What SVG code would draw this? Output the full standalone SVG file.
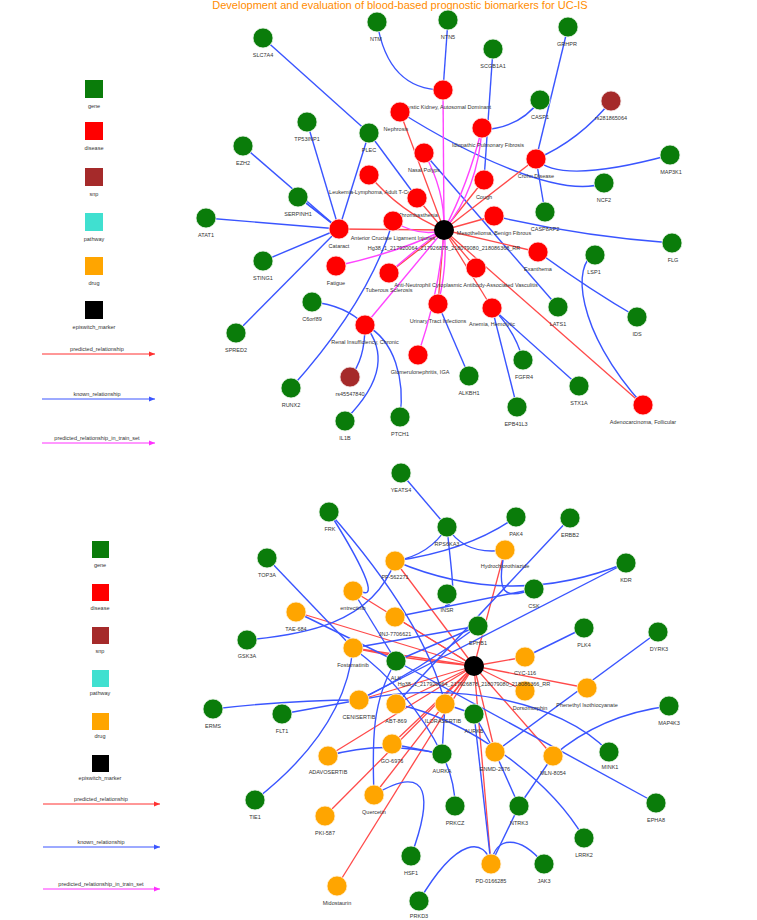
<svg xmlns="http://www.w3.org/2000/svg" width="757" height="920" viewBox="0 0 757 920">
<style>
text{font-family:"Liberation Sans",Arial,sans-serif;font-size:5.5px;fill:#333;text-anchor:middle}
.g{fill:#0a7c0a;stroke:#e8f4e8;stroke-width:0.8}
.d{fill:#ff0000;stroke:#ffe0e0;stroke-width:0.8}
.s{fill:#a52a2a;stroke:#f0e0e0;stroke-width:0.8}
.r{fill:#ffa500;stroke:#fff0d8;stroke-width:0.8}
.m{fill:#000}
.k{stroke:#3a55ff;stroke-width:1.4;fill:none}
.p{stroke:#ff4a4a;stroke-width:1.3;fill:none}
.t{stroke:#ff44ff;stroke-width:1.4;fill:none}
</style>
<defs>
<marker id="ar" viewBox="0 0 6 6" refX="6" refY="3" markerWidth="6" markerHeight="6" orient="auto"><path d="M0,0.5 L6,3 L0,5.5 z" fill="#ff3030"/></marker>
<marker id="ab" viewBox="0 0 6 6" refX="6" refY="3" markerWidth="6" markerHeight="6" orient="auto"><path d="M0,0.5 L6,3 L0,5.5 z" fill="#3a55ff"/></marker>
<marker id="am" viewBox="0 0 6 6" refX="6" refY="3" markerWidth="6" markerHeight="6" orient="auto"><path d="M0,0.5 L6,3 L0,5.5 z" fill="#ff30ff"/></marker>
</defs>
<rect width="757" height="920" fill="#fff"/>
<text x="400" y="9" style="font-size:11px;fill:#ff8c00">Development and evaluation of blood-based prognostic biomarkers for UC-IS</text>

<!-- legends -->
<g id="legend-top">
<rect x="85" y="80" width="18" height="18" fill="#0a7c0a"/><text x="94" y="108">gene</text>
<rect x="85" y="122" width="18" height="18" fill="#ff0000"/><text x="94" y="150">disease</text>
<rect x="85" y="168" width="18" height="18" fill="#a52a2a"/><text x="94" y="196">snp</text>
<rect x="85" y="213" width="18" height="18" fill="#40e0d0"/><text x="94" y="241">pathway</text>
<rect x="85" y="257" width="18" height="18" fill="#ffa500"/><text x="94" y="285">drug</text>
<rect x="85" y="301" width="18" height="18" fill="#000"/><text x="94" y="329">episwitch_marker</text>
<text x="97" y="351">predicted_relationship</text><line x1="42" y1="354" x2="155" y2="354" stroke="#ff3030" stroke-width="1" marker-end="url(#ar)"/>
<text x="97" y="396">known_relationship</text><line x1="42" y1="399" x2="155" y2="399" stroke="#3a55ff" stroke-width="1" marker-end="url(#ab)"/>
<text x="97" y="440">predicted_relationship_in_train_set</text><line x1="42" y1="443" x2="155" y2="443" stroke="#ff30ff" stroke-width="1" marker-end="url(#am)"/>
</g>
<g id="legend-bottom">
<rect x="92" y="541" width="17" height="17" fill="#0a7c0a"/><text x="100" y="567">gene</text>
<rect x="92" y="584" width="17" height="17" fill="#ff0000"/><text x="100" y="610">disease</text>
<rect x="92" y="627" width="17" height="17" fill="#a52a2a"/><text x="100" y="653">snp</text>
<rect x="92" y="670" width="17" height="17" fill="#40e0d0"/><text x="100" y="695">pathway</text>
<rect x="92" y="713" width="17" height="17" fill="#ffa500"/><text x="100" y="738">drug</text>
<rect x="92" y="755" width="17" height="17" fill="#000"/><text x="100" y="780">episwitch_marker</text>
<text x="101" y="801">predicted_relationship</text><line x1="43" y1="804" x2="160" y2="804" stroke="#ff3030" stroke-width="1" marker-end="url(#ar)"/>
<text x="101" y="844">known_relationship</text><line x1="43" y1="847" x2="160" y2="847" stroke="#3a55ff" stroke-width="1" marker-end="url(#ab)"/>
<text x="101" y="886">predicted_relationship_in_train_set</text><line x1="43" y1="889" x2="160" y2="889" stroke="#ff30ff" stroke-width="1" marker-end="url(#am)"/>
</g>

<g id="connectors">
<!-- top: known -->
<path class="k" d="M263,38 L369,133"/>
<path class="k" d="M377,22 Q388,90 443,90"/>
<path class="k" d="M448,20 L443,90"/>
<path class="k" d="M493,49 L484,180"/>
<path class="k" d="M540,100 Q520,128 482,130"/>
<path class="k" d="M568,27 L536,159"/>
<path class="k" d="M611,101 Q580,140 536,159"/>
<path class="k" d="M536,159 Q560,185 670,155"/>
<path class="k" d="M536,159 L545,212"/>
<path class="k" d="M400,112 C460,150 560,200 604,183"/>
<path class="k" d="M494,216 Q580,236 672,243"/>
<path class="k" d="M538,252 Q590,290 637,317"/>
<path class="k" d="M595,255 C572,262 575,330 643,405"/>
<path class="k" d="M424,153 L558,307"/>
<path class="k" d="M492,308 Q515,330 523,360"/>
<path class="k" d="M492,308 L579,386"/>
<path class="k" d="M492,308 L517,407"/>
<path class="k" d="M438,304 L469,376"/>
<path class="k" d="M365,325 Q345,305 312,302"/>
<path class="k" d="M365,325 Q365,360 350,377"/>
<path class="k" d="M365,325 C385,350 385,380 345,420"/>
<path class="k" d="M365,325 C395,340 405,380 400,417"/>
<path class="k" d="M393,221 Q370,300 291,388"/>
<path class="k" d="M339,229 L206,218"/>
<path class="k" d="M339,229 L243,146"/>
<path class="k" d="M339,229 L298,197"/>
<path class="k" d="M339,229 Q310,205 300,199"/>
<path class="k" d="M339,229 L307,122"/>
<path class="k" d="M339,229 L263,261"/>
<path class="k" d="M339,229 L236,333"/>
<path class="k" d="M339,229 L369,133"/>
<path class="k" d="M369,133 L417,198"/>
<!-- top: predicted -->
<path class="p" d="M444,230 L339,229"/>
<path class="p" d="M444,230 Q400,212 369,175"/>
<path class="p" d="M444,230 L417,198"/>
<path class="p" d="M444,230 L400,112"/>
<path class="p" d="M444,230 L536,159"/>
<path class="p" d="M444,230 L484,180"/>
<path class="p" d="M444,230 L494,216"/>
<path class="p" d="M444,230 L538,252"/>
<path class="p" d="M444,230 L492,308"/>
<path class="p" d="M444,230 L476,268"/>
<path class="p" d="M444,230 L438,304"/>
<path class="p" d="M444,230 L643,405"/>
<path class="p" d="M444,230 L389,273"/>
<!-- top: train -->
<path class="t" d="M443,90 L444,230"/>
<path class="t" d="M482,128 Q468,185 444,230"/>
<path class="t" d="M482,128 Q478,190 444,230"/>
<path class="t" d="M424,153 Q445,190 444,230"/>
<path class="t" d="M393,221 Q420,238 444,230"/>
<path class="t" d="M336,266 Q400,252 444,230"/>
<path class="t" d="M389,273 Q420,245 444,230"/>
<path class="t" d="M365,325 L444,230"/>
<path class="t" d="M418,355 Q440,290 444,230"/>
<path class="t" d="M438,304 Q448,265 444,230"/>

<!-- bottom: predicted (marker 474,666) -->
<path class="p" d="M474,666 L395,561"/>
<path class="p" d="M474,666 L505,550"/>
<path class="p" d="M474,666 L353,591"/>
<path class="p" d="M474,666 L296,612"/>
<path class="p" d="M474,666 L395,617"/>
<path class="p" d="M474,666 L353,648"/>
<path class="p" d="M474,666 Q410,660 353,648"/>
<path class="p" d="M474,666 L525,657"/>
<path class="p" d="M474,666 L525,691"/>
<path class="p" d="M474,666 L587,688"/>
<path class="p" d="M474,666 L359,700"/>
<path class="p" d="M474,666 L396,704"/>
<path class="p" d="M474,666 L445,704"/>
<path class="p" d="M474,666 L392,744"/>
<path class="p" d="M474,666 L328,756"/>
<path class="p" d="M474,666 L495,752"/>
<path class="p" d="M474,666 L553,756"/>
<path class="p" d="M474,666 L374,795"/>
<path class="p" d="M474,666 L325,816"/>
<path class="p" d="M474,666 L491,864"/>
<path class="p" d="M474,666 L337,886"/>
<!-- bottom: known -->
<path class="k" d="M401,473 L447,527"/>
<path class="k" d="M329,512 C350,545 382,600 362,592"/>
<path class="k" d="M329,512 C380,570 430,640 445,704"/>
<path class="k" d="M447,527 Q430,555 395,561"/>
<path class="k" d="M447,527 Q465,556 505,550"/>
<path class="k" d="M447,527 C452,580 458,605 445,606"/>
<path class="k" d="M516,517 Q470,550 395,561"/>
<path class="k" d="M505,550 C495,595 505,600 534,589"/>
<path class="k" d="M570,518 L396,704"/>
<path class="k" d="M626,563 Q510,610 395,561"/>
<path class="k" d="M626,563 L359,700"/>
<path class="k" d="M267,558 L353,648"/>
<path class="k" d="M247,640 C300,635 372,625 395,561"/>
<path class="k" d="M213,709 Q290,700 359,700"/>
<path class="k" d="M282,714 L359,700"/>
<path class="k" d="M255,800 Q345,730 353,648"/>
<path class="k" d="M296,612 L396,661"/>
<path class="k" d="M353,591 L396,661"/>
<path class="k" d="M353,648 L478,626"/>
<path class="k" d="M353,648 Q410,690 442,754"/>
<path class="k" d="M396,661 L656,803"/>
<path class="k" d="M359,700 Q420,670 478,626"/>
<path class="k" d="M359,700 C450,680 560,700 609,752"/>
<path class="k" d="M396,704 C470,720 550,780 584,838"/>
<path class="k" d="M442,754 Q455,780 455,806"/>
<path class="k" d="M442,754 L392,744"/>
<path class="k" d="M442,754 Q380,740 328,756"/>
<path class="k" d="M442,754 L445,704"/>
<path class="k" d="M474,714 L445,704"/>
<path class="k" d="M474,714 L495,752"/>
<path class="k" d="M519,806 L491,864"/>
<path class="k" d="M519,806 L553,756"/>
<path class="k" d="M519,806 L495,752"/>
<path class="k" d="M491,864 C495,835 520,835 544,864"/>
<path class="k" d="M491,864 C485,838 458,835 419,901"/>
<path class="k" d="M411,856 C432,800 432,760 374,795"/>
<path class="k" d="M491,864 L474,714"/>
<path class="k" d="M658,632 L495,752"/>
<path class="k" d="M584,628 L525,657"/>
<path class="k" d="M669,706 Q600,715 553,756"/>
<path class="k" d="M374,795 C372,740 372,700 396,661"/>
<path class="k" d="M478,626 L396,661"/>
<path class="k" d="M534,589 Q480,600 395,617"/>
</g>

<!-- top nodes -->
<g id="SLC7A4"><circle class="g" cx="263" cy="38" r="10"/><text x="263" y="57">SLC7A4</text></g>
<g id="NTM"><circle class="g" cx="377" cy="22" r="10"/><text x="376" y="41">NTM</text></g>
<g id="NTN5"><circle class="g" cx="448" cy="20" r="10"/><text x="448" y="39">NTN5</text></g>
<g id="SCGB1A1"><circle class="g" cx="493" cy="49" r="10"/><text x="493" y="68">SCGB1A1</text></g>
<g id="GRHPR"><circle class="g" cx="568" cy="27" r="10"/><text x="567" y="46">GRHPR</text></g>
<g id="CASP1"><circle class="g" cx="540" cy="100" r="10"/><text x="540" y="119">CASP1</text></g>
<g id="rs281865064"><circle class="s" cx="611" cy="101" r="10"/><text x="611" y="120">rs281865064</text></g>
<g id="MAP3K1"><circle class="g" cx="670" cy="155" r="10"/><text x="671" y="174">MAP3K1</text></g>
<g id="NCF2"><circle class="g" cx="604" cy="183" r="10"/><text x="604" y="202">NCF2</text></g>
<g id="CASP8AP2"><circle class="g" cx="545" cy="212" r="10"/><text x="545" y="231">CASP8AP2</text></g>
<g id="FLG"><circle class="g" cx="672" cy="243" r="10"/><text x="673" y="262">FLG</text></g>
<g id="LSP1"><circle class="g" cx="595" cy="255" r="10"/><text x="594" y="274">LSP1</text></g>
<g id="IDS"><circle class="g" cx="637" cy="317" r="10"/><text x="637" y="336">IDS</text></g>
<g id="LATS1"><circle class="g" cx="558" cy="307" r="10"/><text x="558" y="326">LATS1</text></g>
<g id="STX1A"><circle class="g" cx="579" cy="386" r="10"/><text x="579" y="405">STX1A</text></g>
<g id="FGFR4"><circle class="g" cx="523" cy="360" r="10"/><text x="524" y="379">FGFR4</text></g>
<g id="EPB41L3"><circle class="g" cx="517" cy="407" r="10"/><text x="516" y="426">EPB41L3</text></g>
<g id="ALKBH1"><circle class="g" cx="469" cy="376" r="10"/><text x="469" y="395">ALKBH1</text></g>
<g id="PTCH1"><circle class="g" cx="400" cy="417" r="10"/><text x="400" y="436">PTCH1</text></g>
<g id="IL1B"><circle class="g" cx="345" cy="421" r="10"/><text x="345" y="440">IL1B</text></g>
<g id="rs45547840"><circle class="s" cx="350" cy="377" r="10"/><text x="350" y="396">rs45547840</text></g>
<g id="RUNX2"><circle class="g" cx="291" cy="388" r="10"/><text x="291" y="407">RUNX2</text></g>
<g id="C6orf89"><circle class="g" cx="312" cy="302" r="10"/><text x="312" y="321">C6orf89</text></g>
<g id="SPRED2"><circle class="g" cx="236" cy="333" r="10"/><text x="236" y="352">SPRED2</text></g>
<g id="STING1"><circle class="g" cx="263" cy="261" r="10"/><text x="263" y="280">STING1</text></g>
<g id="ATAT1"><circle class="g" cx="206" cy="218" r="10"/><text x="206" y="237">ATAT1</text></g>
<g id="SERPINH1"><circle class="g" cx="298" cy="197" r="10"/><text x="298" y="216">SERPINH1</text></g>
<g id="EZH2"><circle class="g" cx="243" cy="146" r="10"/><text x="243" y="165">EZH2</text></g>
<g id="TP53INP1"><circle class="g" cx="307" cy="122" r="10"/><text x="307" y="141">TP53INP1</text></g>
<g id="PLEC"><circle class="g" cx="369" cy="133" r="10"/><text x="369" y="152">PLEC</text></g>

<g id="Polycystic"><circle class="d" cx="443" cy="90" r="10"/><text x="443" y="109">Polycystic Kidney, Autosomal Dominant</text></g>
<g id="Nephrosis"><circle class="d" cx="400" cy="112" r="10"/><text x="396" y="131">Nephrosis</text></g>
<g id="IPF"><circle class="d" cx="482" cy="128" r="10"/><text x="488" y="147">Idiopathic Pulmonary Fibrosis</text></g>
<g id="NasalPolyps"><circle class="d" cx="424" cy="153" r="10"/><text x="424" y="172">Nasal Polyps</text></g>
<g id="Crohn"><circle class="d" cx="536" cy="159" r="10"/><text x="536" y="178">Crohn Disease</text></g>
<g id="Cough"><circle class="d" cx="484" cy="180" r="10"/><text x="484" y="199">Cough</text></g>
<g id="Leukemia"><circle class="d" cx="369" cy="175" r="10"/><text x="371" y="194">Leukemia-Lymphoma, Adult T-Cell</text></g>
<g id="Thrombasthenia"><circle class="d" cx="417" cy="198" r="10"/><text x="418" y="217">Thrombasthenia</text></g>
<g id="Mesothelioma"><circle class="d" cx="494" cy="216" r="10"/><text x="494" y="235">Mesothelioma, Benign Fibrous</text></g>
<g id="Cataract"><circle class="d" cx="339" cy="229" r="10"/><text x="339" y="248">Cataract</text></g>
<g id="ACL"><circle class="d" cx="393" cy="221" r="10"/><text x="393" y="240">Anterior Cruciate Ligament Injuries</text></g>
<g id="Exanthema"><circle class="d" cx="538" cy="252" r="10"/><text x="538" y="271">Exanthema</text></g>
<g id="Fatigue"><circle class="d" cx="336" cy="266" r="10"/><text x="336" y="285">Fatigue</text></g>
<g id="Tuberous"><circle class="d" cx="389" cy="273" r="10"/><text x="389" y="292">Tuberous Sclerosis</text></g>
<g id="ANCA"><circle class="d" cx="476" cy="268" r="10"/><text x="466" y="287">Anti-Neutrophil Cytoplasmic Antibody-Associated Vasculitis</text></g>
<g id="UTI"><circle class="d" cx="438" cy="304" r="10"/><text x="438" y="323">Urinary Tract Infections</text></g>
<g id="Anemia"><circle class="d" cx="492" cy="308" r="10"/><text x="492" y="326">Anemia, Hemolytic</text></g>
<g id="Renal"><circle class="d" cx="365" cy="325" r="10"/><text x="365" y="344">Renal Insufficiency, Chronic</text></g>
<g id="Glomerulonephritis"><circle class="d" cx="418" cy="355" r="10"/><text x="420" y="374">Glomerulonephritis, IGA</text></g>
<g id="Adenocarcinoma"><circle class="d" cx="643" cy="405" r="10"/><text x="643" y="424">Adenocarcinoma, Follicular</text></g>
<g id="marker-top"><circle class="m" cx="444" cy="230" r="10"/><text x="444" y="250">Hg38_1_217920064_217926878_218079080_218086368_RR</text></g>

<!-- bottom nodes -->
<g id="YEATS4"><circle class="g" cx="401" cy="473" r="10"/><text x="401" y="492">YEATS4</text></g>
<g id="FRK"><circle class="g" cx="329" cy="512" r="10"/><text x="330" y="531">FRK</text></g>
<g id="RPS6KA3"><circle class="g" cx="447" cy="527" r="10"/><text x="447" y="546">RPS6KA3</text></g>
<g id="PAK4"><circle class="g" cx="516" cy="517" r="10"/><text x="516" y="536">PAK4</text></g>
<g id="ERBB2"><circle class="g" cx="570" cy="518" r="10"/><text x="570" y="537">ERBB2</text></g>
<g id="KDR"><circle class="g" cx="626" cy="563" r="10"/><text x="626" y="582">KDR</text></g>
<g id="TOP3A"><circle class="g" cx="267" cy="558" r="10"/><text x="267" y="577">TOP3A</text></g>
<g id="CSK"><circle class="g" cx="534" cy="589" r="10"/><text x="534" y="608">CSK</text></g>
<g id="INSR"><circle class="g" cx="447" cy="594" r="10"/><text x="447" y="612">INSR</text></g>
<g id="EPHB1"><circle class="g" cx="478" cy="626" r="10"/><text x="478" y="645">EPHB1</text></g>
<g id="PLK4"><circle class="g" cx="584" cy="628" r="10"/><text x="584" y="647">PLK4</text></g>
<g id="DYRK3"><circle class="g" cx="658" cy="632" r="10"/><text x="659" y="651">DYRK3</text></g>
<g id="GSK3A"><circle class="g" cx="247" cy="640" r="10"/><text x="247" y="658">GSK3A</text></g>
<g id="ALK"><circle class="g" cx="396" cy="661" r="10"/><text x="396" y="680">ALK</text></g>
<g id="MAP4K3"><circle class="g" cx="669" cy="706" r="10"/><text x="669" y="725">MAP4K3</text></g>
<g id="AURKB"><circle class="g" cx="474" cy="714" r="10"/><text x="474" y="733">AURKB</text></g>
<g id="ERMS"><circle class="g" cx="213" cy="709" r="10"/><text x="213" y="728">ERMS</text></g>
<g id="FLT1"><circle class="g" cx="282" cy="714" r="10"/><text x="282" y="733">FLT1</text></g>
<g id="MINK1"><circle class="g" cx="609" cy="752" r="10"/><text x="610" y="769">MINK1</text></g>
<g id="AURKA"><circle class="g" cx="442" cy="754" r="10"/><text x="442" y="773">AURKA</text></g>
<g id="TIE1"><circle class="g" cx="255" cy="800" r="10"/><text x="255" y="819">TIE1</text></g>
<g id="EPHA8"><circle class="g" cx="656" cy="803" r="10"/><text x="656" y="822">EPHA8</text></g>
<g id="PRKCZ"><circle class="g" cx="455" cy="806" r="10"/><text x="455" y="825">PRKCZ</text></g>
<g id="NTRK3"><circle class="g" cx="519" cy="806" r="10"/><text x="519" y="825">NTRK3</text></g>
<g id="LRRK2"><circle class="g" cx="584" cy="838" r="10"/><text x="584" y="857">LRRK2</text></g>
<g id="HSF1"><circle class="g" cx="411" cy="856" r="10"/><text x="411" y="875">HSF1</text></g>
<g id="JAK3"><circle class="g" cx="544" cy="864" r="10"/><text x="544" y="883">JAK3</text></g>
<g id="PRKD3"><circle class="g" cx="419" cy="901" r="10"/><text x="419" y="918">PRKD3</text></g>

<g id="PF-562271"><circle class="r" cx="395" cy="561" r="10"/><text x="395" y="579">PF-562271</text></g>
<g id="Hydrochlorothiazide"><circle class="r" cx="505" cy="550" r="10"/><text x="505" y="568">Hydrochlorothiazide</text></g>
<g id="entrectinib"><circle class="r" cx="353" cy="591" r="10"/><text x="353" y="610">entrectinib</text></g>
<g id="TAE-684"><circle class="r" cx="296" cy="612" r="10"/><text x="296" y="631">TAE-684</text></g>
<g id="JNJ-7706621"><circle class="r" cx="395" cy="617" r="10"/><text x="395" y="636">JNJ-7706621</text></g>
<g id="Fostamatinib"><circle class="r" cx="353" cy="648" r="10"/><text x="353" y="667">Fostamatinib</text></g>
<g id="CYC-116"><circle class="r" cx="525" cy="657" r="10"/><text x="525" y="675">CYC-116</text></g>
<g id="Dorsomorphin"><circle class="r" cx="525" cy="691" r="10"/><text x="530" y="710">Dorsomorphin</text></g>
<g id="PEITC"><circle class="r" cx="587" cy="688" r="10"/><text x="587" y="707">Phenethyl Isothiocyanate</text></g>
<g id="CENISERTIB"><circle class="r" cx="359" cy="700" r="10"/><text x="359" y="719">CENISERTIB</text></g>
<g id="ABT-869"><circle class="r" cx="396" cy="704" r="10"/><text x="396" y="723">ABT-869</text></g>
<g id="ILORASERTIB"><circle class="r" cx="445" cy="704" r="10"/><text x="443" y="723">ILORASERTIB</text></g>
<g id="GO-6976"><circle class="r" cx="392" cy="744" r="10"/><text x="392" y="763">GO-6976</text></g>
<g id="ADAVOSERTIB"><circle class="r" cx="328" cy="756" r="10"/><text x="328" y="774">ADAVOSERTIB</text></g>
<g id="ENMD-2076"><circle class="r" cx="495" cy="752" r="10"/><text x="495" y="771">ENMD-2076</text></g>
<g id="MLN-8054"><circle class="r" cx="553" cy="756" r="10"/><text x="553" y="775">MLN-8054</text></g>
<g id="Quercetin"><circle class="r" cx="374" cy="795" r="10"/><text x="374" y="814">Quercetin</text></g>
<g id="PKI-587"><circle class="r" cx="325" cy="816" r="10"/><text x="325" y="835">PKI-587</text></g>
<g id="PD-0166285"><circle class="r" cx="491" cy="864" r="10"/><text x="491" y="883">PD-0166285</text></g>
<g id="Midostaurin"><circle class="r" cx="337" cy="886" r="10"/><text x="337" y="905">Midostaurin</text></g>
<g id="marker-bottom"><circle class="m" cx="474" cy="666" r="10"/><text x="474" y="686">Hg38_1_217920064_217926878_218079080_218086366_RR</text></g>
</svg>
